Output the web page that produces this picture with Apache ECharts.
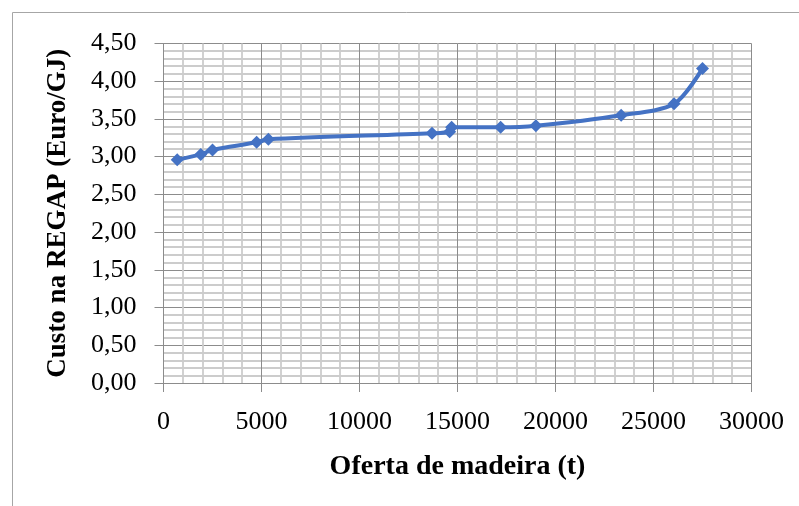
<!DOCTYPE html>
<html>
<head>
<meta charset="utf-8">
<script src="https://cdn.jsdelivr.net/npm/echarts@6/dist/echarts.min.js"></script>
<style>
html,body{margin:0;padding:0;background:#fff;}
#chart{width:799px;height:506px;}
</style>
</head>
<body>
<div id="chart"></div>
<script>
const xValues = [700, 1900, 2500, 4750, 5350, 13700, 14600, 14700, 17200, 19000, 23350, 26050, 27500];
const yValues = [2.96, 3.03, 3.09, 3.19, 3.23, 3.31, 3.33, 3.39, 3.39, 3.41, 3.55, 3.70, 4.17];
const xAxisTitle = 'Oferta de madeira (t)';
const yAxisTitle = 'Custo na REGAP (Euro/GJ)';

const FONT = '"Liberation Serif", "DejaVu Serif", serif';
const chart = echarts.init(document.getElementById('chart'), null, {renderer: 'canvas'});
const points = xValues.map((x, i) => [x, yValues[i]]);

chart.setOption({
  animation: false,
  backgroundColor: '#ffffff',
  graphic: [{
    type: 'rect',
    shape: {x: 12.5, y: 12.5, width: 820, height: 520},
    style: {fill: 'none', stroke: '#a6a6a6', lineWidth: 1},
    silent: true
  }],
  grid: {left: 163.5, right: 47.5, top: 43.5, bottom: 123, containLabel: false},
  xAxis: {
    type: 'value', min: 0, max: 30000, interval: 5000,
    name: xAxisTitle, nameLocation: 'middle', nameGap: 70,
    nameTextStyle: {fontFamily: FONT, fontWeight: 'bold', fontSize: 28, color: '#000'},
    axisLine: {show: true, lineStyle: {color: '#8c8c8c', width: 1}},
    axisTick: {show: true, length: 9, lineStyle: {color: '#8c8c8c'}},
    axisLabel: {fontFamily: FONT, fontSize: 26, color: '#000', margin: 26,
      formatter: v => String(v)},
    splitLine: {show: true, lineStyle: {color: '#8c8c8c', width: 1}},
    minorTick: {show: false, splitNumber: 5},
    minorSplitLine: {show: true, lineStyle: {color: '#cccccc', width: 1.8}}
  },
  yAxis: {
    type: 'value', min: 0, max: 4.5, interval: 0.5,
    name: yAxisTitle, nameLocation: 'middle', nameGap: 92, nameRotate: 90,
    nameTextStyle: {fontFamily: FONT, fontWeight: 'bold', fontSize: 27, color: '#000'},
    axisLine: {show: true, lineStyle: {color: '#8c8c8c', width: 1}},
    axisTick: {show: true, length: 9, lineStyle: {color: '#8c8c8c'}},
    axisLabel: {fontFamily: FONT, fontSize: 26, color: '#000', margin: 27,
      formatter: v => v.toFixed(2).replace('.', ',')},
    splitLine: {show: true, lineStyle: {color: '#8c8c8c', width: 1}},
    minorTick: {show: false, splitNumber: 5},
    minorSplitLine: {show: true, lineStyle: {color: '#cccccc', width: 1.8}}
  },
  series: [{
    type: 'line',
    data: points,
    smooth: 0.3,
    symbol: 'diamond',
    symbolSize: 13,
    lineStyle: {color: '#4472C4', width: 4},
    itemStyle: {color: '#4472C4'}
  }]
});
</script>
</body>
</html>
